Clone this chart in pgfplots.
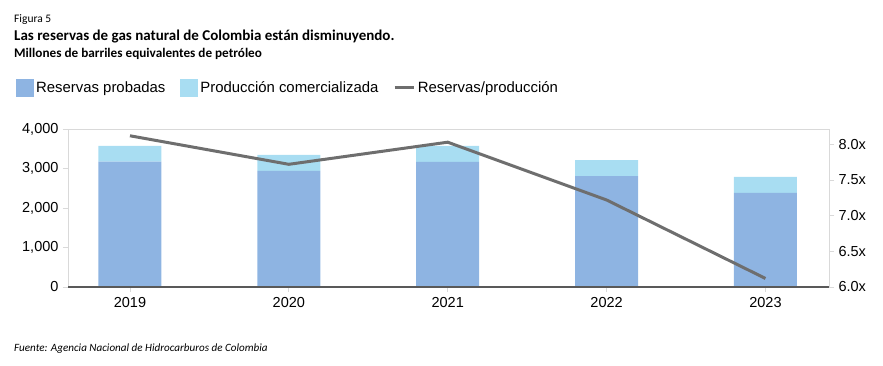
\documentclass[border=0pt]{standalone}
\usepackage{pgfplots}
\pgfplotsset{compat=1.18}
\usepackage{fontspec}
\setmainfont{Liberation Sans}
\newfontfamily\carlito{Carlito}
\definecolor{resv}{RGB}{142,180,226}
\definecolor{prod}{RGB}{168,221,242}
\definecolor{lineg}{RGB}{110,110,110}
\definecolor{frame}{RGB}{217,217,217}
\definecolor{base}{RGB}{89,89,89}
\begin{document}
\begin{tikzpicture}
\path[use as bounding box] (0,0) rectangle (883pt,-366pt);
\node[anchor=base west, inner sep=0, font=\carlito\fontsize{11.5}{13}\selectfont] at (14pt,-22.5pt) {Figura 5};
\node[anchor=base west, inner sep=0, font=\carlito\bfseries\fontsize{15}{17}\selectfont] at (14pt,-40.8pt) {Las reservas de gas natural de Colombia están disminuyendo.};
\node[anchor=base west, inner sep=0, font=\carlito\bfseries\fontsize{13.2}{15}\selectfont] at (14pt,-57.5pt) {Millones de barriles equivalentes de petróleo};
\node[anchor=base west, inner sep=0, font=\carlito\itshape\fontsize{11.1}{13}\selectfont] at (14pt,-351.5pt) {Fuente: Agencia Nacional de Hidrocarburos de Colombia};

\begin{axis}[
  at={(68pt,-287pt)}, anchor=south west,
  scale only axis, width=761pt, height=158pt,
  xmin=-0.39, xmax=4.4, ymin=0, ymax=4000,
  ybar stacked, bar width=63pt,
  axis on top,
  axis line style={draw=frame},
  xtick={0,1,2,3,4}, xticklabels={2019,2020,2021,2022,2023},
  ytick={0,1000,2000,3000,4000},
  xtick pos=bottom, ytick pos=left,
  tick align=outside, major tick length=5pt,
  tick style={draw=frame, line width=0.8pt},
  /pgf/number format/1000 sep={,},
  /pgf/number format/assume math mode=true,
  tick label style={font=\fontsize{14.5}{16}\selectfont},
  yticklabel style={xshift=-1pt},
  xticklabel style={yshift=-2pt},
  extra y ticks={0}, extra y tick labels={},
  extra y tick style={grid=major, major grid style={draw=base, line width=2pt}, major tick length=0pt},
  legend style={at={(-0.069,1.262)}, anchor=west, draw=none, fill=none,
    legend columns=3, font=\fontsize{14.9}{18}\selectfont,
    /tikz/every even column/.append style={column sep=12pt},
    inner sep=0pt, nodes={inner sep=2.5pt}},
]
\addplot[fill=resv, draw=none, legend image code/.code={\fill[resv] (0pt,-9pt) rectangle (18pt,9pt);}] coordinates {(0,3172) (1,2937) (2,3165) (3,2810) (4,2380)};
\addplot[fill=prod, draw=none, legend image code/.code={\fill[prod] (0pt,-9pt) rectangle (18pt,9pt);}] coordinates {(0,400) (1,405) (2,405) (3,405) (4,405)};
\addlegendimage{lineg, line width=3.5pt, legend image code/.code={\draw[lineg, line width=3.5pt] (0pt,0pt) -- (19pt,0pt);}}
\legend{Reservas probadas, Producción comercializada, Reservas/producción}
\end{axis}

\begin{axis}[
  at={(68pt,-287pt)}, anchor=south west,
  scale only axis, width=761pt, height=158pt,
  xmin=-0.39, xmax=4.4, ymin=6, ymax=8.215,
  axis x line=none, axis y line*=right,
  axis line style={draw=frame},
  ytick={6,6.5,7,7.5,8},
  tick align=outside, major tick length=5pt,
  tick style={draw=frame, line width=0.8pt},
  tick label style={font=\fontsize{14.5}{16}\selectfont},
  yticklabel={\pgfmathprintnumber[fixed,fixed zerofill,precision=1,assume math mode=true]{\tick}x},
  yticklabel style={xshift=1pt},
]
\addplot[lineg, line width=3pt, mark=none] coordinates {(0,8.12) (1,7.72) (2,8.03) (3,7.22) (4,6.12)};
\end{axis}
\end{tikzpicture}
\end{document}
